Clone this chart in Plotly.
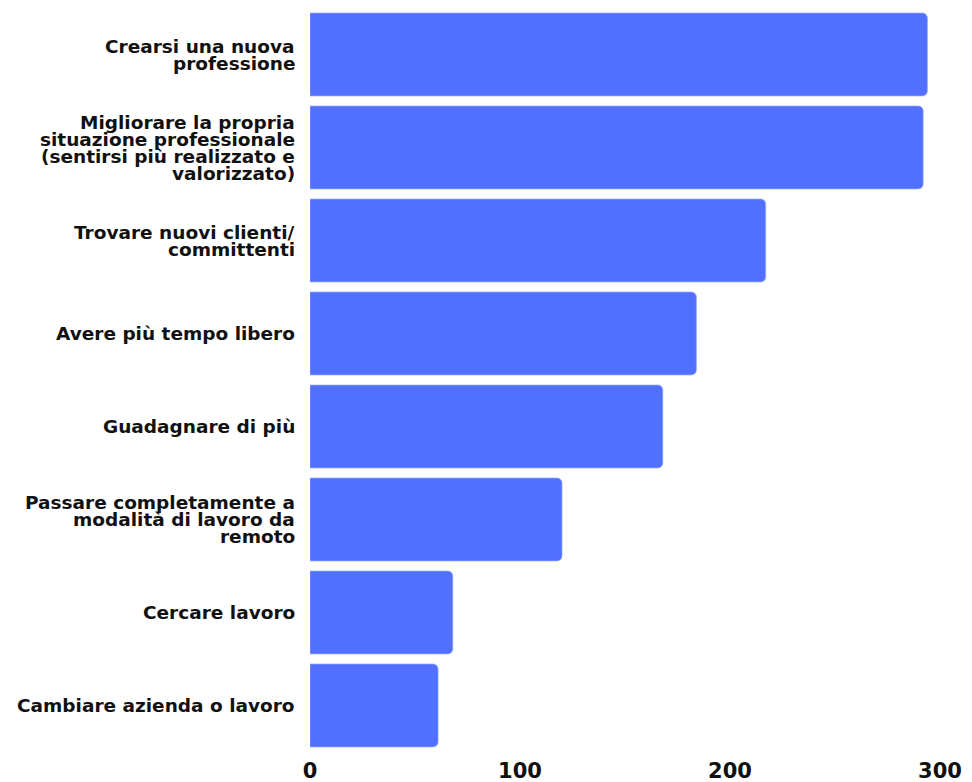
import plotly.graph_objects as go

# Survey answers (wrapped as they appear next to each bar) and response counts
label_lines = [
    ["Crearsi una nuova", "professione"],
    ["Migliorare la propria", "situazione professionale", "(sentirsi più realizzato e", "valorizzato)"],
    ["Trovare nuovi clienti/", "committenti"],
    ["Avere più tempo libero"],
    ["Guadagnare di più"],
    ["Passare completamente a", "modalità di lavoro da", "remoto"],
    ["Cercare lavoro"],
    ["Cambiare azienda o lavoro"],
]
counts = [294, 292, 217, 184, 168, 120, 68, 61]
tick_values = [0, 100, 200, 300]
tick_labels = ["0", "100", "200", "300"]

categories = [" ".join(lines) for lines in label_lines]

BAR_COLOR = "#5170FF"
LABEL_FONT = "DejaVu Sans"
TICK_FONT = "DejaVu Sans"
LINE_STEP = 17

fig = go.Figure(
    go.Bar(
        x=counts,
        y=categories,
        orientation="h",
        marker=dict(color=BAR_COLOR, cornerradius=5,
                    line=dict(color="rgba(150,170,255,0.7)", width=1)),
        hoverinfo="x+y",
    )
)

# Category labels, one annotation per text line for tight line spacing
annotations = []
for cat, lines in zip(categories, label_lines):
    n = len(lines)
    for i, line in enumerate(lines):
        annotations.append(dict(
            x=0, xref="paper", xanchor="right", xshift=-13,
            y=cat, yref="y", yanchor="middle",
            yshift=((n - 1) / 2 - i) * LINE_STEP,
            text=line, showarrow=False, align="right",
            font=dict(family=LABEL_FONT, size=18.5, color="#111111", weight=700),
        ))

fig.update_layout(
    width=972, height=782,
    margin=dict(l=310, r=32, t=8, b=30, autoexpand=False),
    paper_bgcolor="white", plot_bgcolor="white",
    bargap=0.108,
    showlegend=False,
    annotations=annotations,
    xaxis=dict(
        range=[0, 300], tickvals=tick_values, ticktext=tick_labels,
        showgrid=False, zeroline=False, showline=False, ticks="",
        automargin=False, ticklabelstandoff=4,
        tickfont=dict(family=TICK_FONT, size=21, color="#111111", weight=700),
        fixedrange=True,
    ),
    yaxis=dict(
        autorange="reversed", showticklabels=False, showgrid=False,
        zeroline=False, showline=False, ticks="", fixedrange=True,
        automargin=False,
    ),
)

fig.write_html("out.html")
